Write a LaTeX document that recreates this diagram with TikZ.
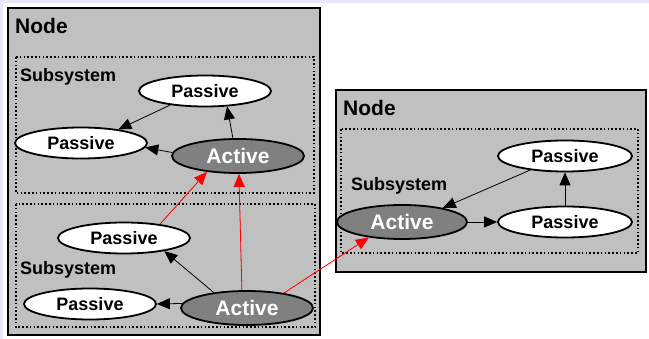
\documentclass[tikz,border=0pt]{standalone}
\usepackage{fontspec}
\setmainfont{Liberation Sans}
\usetikzlibrary{shapes.geometric,arrows.meta}

\definecolor{boxgray}{RGB}{192,192,192}
\definecolor{activegray}{RGB}{128,128,128}
\definecolor{edgelav}{RGB}{232,232,250}

\begin{document}
\begin{tikzpicture}[x=1pt,y=-1pt,
    nodebox/.style={draw,line width=2.5pt,fill=boxgray},
    subbox/.style={draw,line width=1.6pt,dash pattern=on 1.6pt off 2.2pt},
    passive/.style={ellipse,draw,line width=1.8pt,fill=white,inner sep=0pt,
      minimum width=132pt,minimum height=31pt,
      font=\bfseries\fontsize{18}{20}\selectfont},
    active/.style={ellipse,draw,line width=1.8pt,fill=activegray,text=white,inner sep=0pt,
      minimum width=132pt,minimum height=34pt,
      font=\bfseries\fontsize{21}{24}\selectfont},
    title/.style={anchor=base west,inner sep=0pt,font=\bfseries\fontsize{21}{24}\selectfont},
    sublabel/.style={anchor=base west,inner sep=0pt,font=\bfseries\fontsize{18}{20}\selectfont},
    arr/.style={-{Triangle[length=13pt,width=11pt]},line width=0.8pt},
    redarr/.style={arr,draw=red,fill=red}]

  \useasboundingbox (0,0) rectangle (649,339);
  \fill[edgelav] (0,0) rectangle (649,3);
  \fill[edgelav] (0,0) rectangle (3,339);

  % left node
  \draw[nodebox] (8,8) rectangle (320,335);
  \node[title] (nodeL) at (15,34) {Node};
  \draw[subbox] (16,57) rectangle (314,193);
  \draw[subbox] (16,204) rectangle (315,327);
  \node[sublabel] (subA) at (20,82) {Subsystem};
  \node[sublabel] (subB) at (20,275) {Subsystem};

  % right node
  \draw[nodebox] (336,90) rectangle (646,272);
  \node[title] (nodeR) at (343,116) {Node};
  \draw[subbox] (341,129) rectangle (638,253);
  \node[sublabel] (subC) at (351,191) {Subsystem};

  % objects
  \node[passive] (p1) at (205,91) {Passive};
  \node[passive] (p2) at (81,143) {Passive};
  \node[active]  (a1) at (238,156) {Active};
  \node[passive] (p3) at (124,238) {Passive};
  \node[passive] (p4) at (90,304) {Passive};
  \node[active]  (a2) at (247,308) {Active};
  \node[active, minimum width=130pt] (a3) at (402,222) {Active};
  \node[passive, minimum width=134pt] (p5) at (565,156) {Passive};
  \node[passive, minimum width=134pt] (p6) at (565,222) {Passive};

  % local links
  \draw[arr] (p1.202) -- (p2.20);
  \draw[arr] (a1.106) -- (p1.325);
  \draw[arr] (a1.177) -- (p2.356);
  \draw[arr] (a2.155) -- (p3.342);
  \draw[arr] (a2.176) -- (p4.east);
  \draw[arr] (p5.202) -- (a3.19);
  \draw[arr] (a3.east) -- (p6.west);
  \draw[arr] (p6.north) -- (p5.south);

  % remote links
  \draw[redarr] (p3.21) -- (a1.207);
  \draw[redarr] (a2.106) -- (a1.273);
  \draw[redarr] (a2.22) -- (a3.205);

\end{tikzpicture}
\end{document}
